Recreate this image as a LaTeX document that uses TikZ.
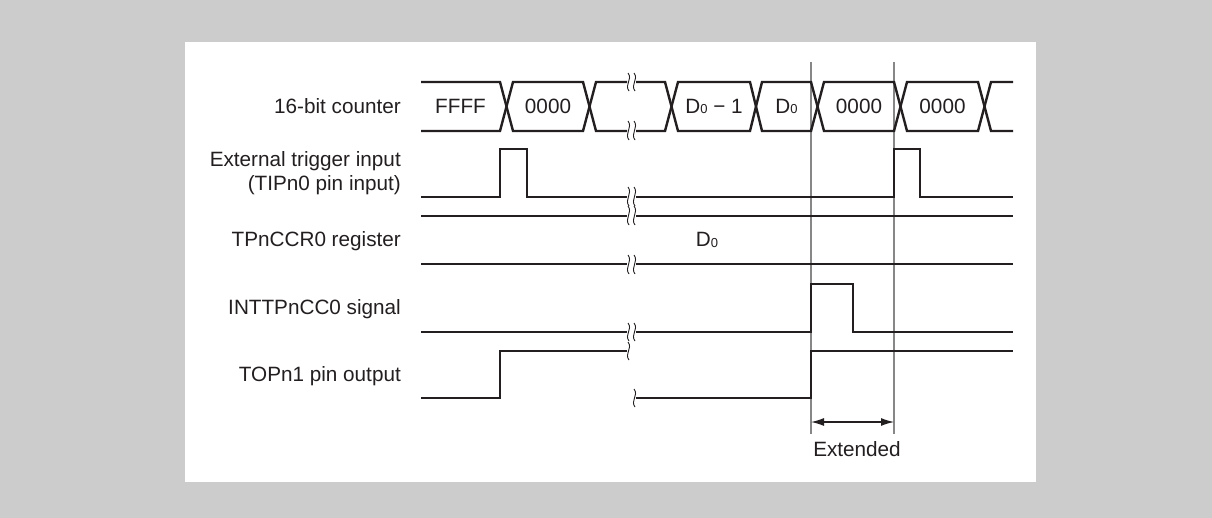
\documentclass[tikz,border=0pt]{standalone}
\usepackage{fontspec}
\setmainfont{Liberation Sans}
\usetikzlibrary{arrows.meta}
\definecolor{bggray}{RGB}{204,204,204}
\definecolor{ink}{RGB}{35,31,32}
\definecolor{guide}{RGB}{135,135,135}
\newcommand\subzero{\raisebox{-0.5pt}{\fontsize{13}{13}\selectfont 0}}
\newcommand\brkmark[3]{\draw[brkline] (#1-0.5,#2) .. controls +(5,0.35*#3-0.35*#2) and +(-5,-0.35*#3+0.35*#2) .. (#1+0.5,#3);}
\begin{document}
\begin{tikzpicture}[x=1pt,y=-1pt,
  sig/.style={draw=ink, line width=2.4pt, line join=miter},
  brkline/.style={draw=ink, line width=0.9pt},
  guideline/.style={draw=guide, line width=1.1pt},
  lbl/.style={inner sep=0pt, text=ink, font=\fontsize{20.7}{24}\selectfont, anchor=base east},
  val/.style={inner sep=0pt, text=ink, font=\fontsize{20.7}{24}\selectfont, anchor=base}]
\useasboundingbox (0,0) rectangle (1212,518);
\fill[bggray] (0,0) rectangle (1212,518);
\fill[white] (185,42) rectangle (1036,482);

% guide lines
\draw[guideline] (811,62) -- (811,434);
\draw[guideline] (894,62) -- (894,434);

% labels
\node[lbl] (lcnt) at (401,113.5) {16-bit counter};
\node[lbl] (lext1) at (401,167) {External trigger input};
\node[lbl] (lext2) at (401,191) {(TIPn0 pin input)};
\node[lbl] (lreg) at (401,247) {TPnCCR0 register};
\node[lbl] (lint) at (401,315) {INTTPnCC0 signal};
\node[lbl] (ltop) at (401,381) {TOPn1 pin output};

% 16-bit counter bus
\draw[sig] (421,82) -- (500,82) -- (513,131) -- (583,131) -- (596,82) -- (627,82);
\draw[sig] (421,131) -- (500,131) -- (513,82) -- (583,82) -- (596,131) -- (627,131);
\draw[sig] (636,82) -- (665,82) -- (678,131) -- (750,131) -- (762,82) -- (811,82) -- (824,131) -- (894,131) -- (907,82) -- (978,82) -- (991,131) -- (1013,131);
\draw[sig] (636,131) -- (665,131) -- (678,82) -- (750,82) -- (762,131) -- (811,131) -- (824,82) -- (894,82) -- (907,131) -- (978,131) -- (991,82) -- (1013,82);
\node[val] (v1) at (460.5,113.5) {FFFF};
\node[val] (v2) at (548,113.5) {0000};
\node[val] (v3) at (714,113.5) {D\subzero\ \char"2212\ 1};
\node[val] (v4) at (786.5,113.5) {D\subzero};
\node[val] (v5) at (859,113.5) {0000};
\node[val] (v6) at (942.5,113.5) {0000};
\brkmark{628.5}{73}{91}
\brkmark{634.5}{73}{91}
\brkmark{628.5}{121}{140}
\brkmark{634.5}{121}{140}

% external trigger
\draw[sig] (421,197) -- (500,197) -- (500,149) -- (527,149) -- (527,197) -- (627,197);
\draw[sig] (636,197) -- (894,197) -- (894,149) -- (920,149) -- (920,197) -- (1013,197);

% register
\draw[sig] (421,216) -- (627,216);
\draw[sig] (636,216) -- (1013,216);
\draw[sig] (421,264) -- (627,264);
\draw[sig] (636,264) -- (1013,264);
\node[val] (vreg) at (707,247) {D\subzero};
\brkmark{628.5}{187}{206}
\brkmark{628.5}{206}{225}
\brkmark{634.5}{187}{206}
\brkmark{634.5}{206}{225}
\brkmark{628.5}{255}{274}
\brkmark{634.5}{255}{274}

% INTTPnCC0
\draw[sig] (421,332) -- (627,332);
\draw[sig] (636,332) -- (811,332) -- (811,284) -- (853,284) -- (853,332) -- (1013,332);
\brkmark{628.5}{323}{341}
\brkmark{634.5}{323}{341}

% TOPn1
\draw[sig] (421,398) -- (500,398) -- (500,351) -- (627,351);
\draw[sig] (636,398) -- (811,398) -- (811,351) -- (1013,351);
\brkmark{628.5}{342}{360}
\brkmark{634.5}{389}{407}

% extended
\coordinate (ea) at (811,422);
\coordinate (eb) at (894,422);
\draw[draw=ink, line width=1.2pt, {Latex[length=13pt,width=8pt]}-{Latex[length=13pt,width=8pt]}] (ea) -- (eb);
\node[val] (lextd) at (857,456) {Extended};
\end{tikzpicture}
\end{document}
